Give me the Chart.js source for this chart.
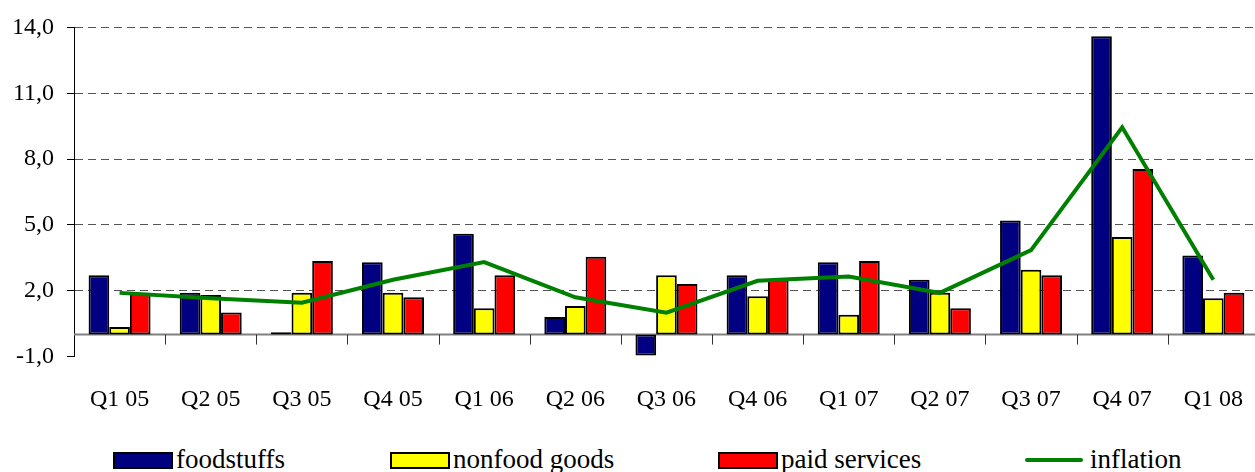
<!DOCTYPE html>
<html>
<head>
<meta charset="utf-8">
<script src="https://cdn.jsdelivr.net/npm/chart.js@4"></script>
<style>
  html, body { margin: 0; padding: 0; background: #fff; }
  #wrap { position: relative; width: 1255px; height: 472px; overflow: hidden; }
  #chart { position: absolute; left: 0; top: 0; }
  .lg { position: absolute; top: 445px; height: 28px; display: flex; align-items: center; font-family: "Liberation Serif", "Times New Roman", "DejaVu Serif", serif; font-size: 27px; color: #000; white-space: nowrap; }
  .lg .box { width: 60px; height: 17px; border: 2px solid #000; box-sizing: border-box; margin-right: 3px; margin-top: 3px; }
  .lg .ln { width: 58px; height: 4px; border-radius: 2px; margin-right: 7px; margin-top: 2px; }
</style>
</head>
<body>
<div id="wrap">
  <canvas id="chart" width="1264" height="430"></canvas>
  <div id="legend"></div>
</div>
<script>
// Datas
const quarters = ['Q1 05', 'Q2 05', 'Q3 05', 'Q4 05', 'Q1 06', 'Q2 06', 'Q3 06', 'Q4 06', 'Q1 07', 'Q2 07', 'Q3 07', 'Q4 07', 'Q1 08'];
const foodstuffs = [2.7, 1.9, 0.1, 3.3, 4.6, 0.8, -0.95, 2.7, 3.3, 2.5, 5.2, 13.6, 3.6];
const nonfoodGoods = [0.35, 1.8, 1.9, 1.9, 1.2, 1.3, 2.7, 1.75, 0.9, 1.9, 2.95, 4.45, 1.65];
const paidServices = [1.9, 1.0, 3.35, 1.7, 2.7, 3.55, 2.3, 2.5, 3.35, 1.2, 2.7, 7.55, 1.9];
const inflation = [1.9, 1.65, 1.45, 2.5, 3.3, 1.7, 1.0, 2.45, 2.65, 1.9, 3.85, 9.45, 2.5];
const seriesNames = ['foodstuffs', 'nonfood goods', 'paid services', 'inflation'];
const yTicks = [-1, 2, 5, 8, 11, 14];

const font = { family: '"Liberation Serif", "Times New Roman", "DejaVu Serif", serif', size: 24 };

// zero line + category tick marks
const zeroAxis = {
  id: 'zeroAxis',
  beforeDatasetsDraw(chart) {
    const { ctx, chartArea, scales: { x, y } } = chart;
    const y0 = y.getPixelForValue(0);
    ctx.save();
    ctx.strokeStyle = '#808080';
    ctx.lineWidth = 2;
    ctx.beginPath();
    ctx.moveTo(chartArea.left, y0);
    ctx.lineTo(chartArea.right, y0);
    ctx.stroke();
    ctx.lineWidth = 1;
    ctx.strokeStyle = '#333';
    for (let i = 1; i < quarters.length; i++) {
      const xb = Math.round((x.getPixelForValue(i - 1) + x.getPixelForValue(i)) / 2) + 0.5;
      ctx.beginPath();
      ctx.moveTo(xb, y0);
      ctx.lineTo(xb, y0 + 10);
      ctx.stroke();
    }
    ctx.restore();
  }
};

const barStyle = { borderColor: '#000', borderWidth: 2, borderSkipped: false, categoryPercentage: 0.68, barPercentage: 1.0, order: 1 };

const data = {
  labels: quarters,
  datasets: [
    Object.assign({ label: seriesNames[0], data: foodstuffs, backgroundColor: '#000080' }, barStyle),
    Object.assign({ label: seriesNames[1], data: nonfoodGoods, backgroundColor: '#FFFF00' }, barStyle),
    Object.assign({ label: seriesNames[2], data: paidServices, backgroundColor: '#FF0000' }, barStyle),
    {
      type: 'line', label: seriesNames[3], data: inflation,
      borderColor: '#008000', borderWidth: 4, pointRadius: 0, tension: 0, fill: false, order: 0
    }
  ]
};

const options = {
  responsive: false,
  animation: false,
  devicePixelRatio: 1,
  layout: { padding: { top: 25, left: 0, right: 0, bottom: 0 } },
  scales: {
    x: {
      offset: true,
      grid: { display: false },
      border: { display: false },
      ticks: { color: '#000', font: font, padding: 21, maxRotation: 0, autoSkip: false },
      afterFit(scale) { scale.height = 430 - 356.5; }
    },
    y: {
      min: -1,
      max: 14,
      afterBuildTicks(scale) { scale.ticks = yTicks.map(v => ({ value: v })); },
      ticks: {
        color: '#000', font: font, padding: 13,
        callback: v => v.toFixed(1).replace('.', ',')
      },
      grid: {
        color: c => (c.tick && c.tick.value === -1) ? 'rgba(0,0,0,0)' : '#555',
        lineWidth: 1,
        tickLength: 7,
        tickColor: '#000',
        tickBorderDash: []
      },
      border: { display: true, color: '#000', width: 1, dash: [8, 5] },
      afterFit(scale) { scale.width = 74; }
    }
  },
  plugins: {
    legend: { display: false },
    tooltip: { enabled: false }
  }
};

const ctx = document.getElementById('chart').getContext('2d');
const myChart = new Chart(ctx, { type: 'bar', data: data, options: options, plugins: [zeroAxis] });

// legend
const legendLeft = [113, 390, 718, 1025];
const legendSwatch = ['#000080', '#FFFF00', '#FF0000', '#008000'];
const lg = document.getElementById('legend');
seriesNames.forEach((name, i) => {
  const item = document.createElement('div');
  item.className = 'lg';
  item.style.left = legendLeft[i] + 'px';
  const sw = document.createElement('span');
  sw.className = i === 3 ? 'ln' : 'box';
  sw.style.background = legendSwatch[i];
  const tx = document.createElement('span');
  tx.textContent = name;
  item.appendChild(sw);
  item.appendChild(tx);
  lg.appendChild(item);
});
</script>
</body>
</html>
